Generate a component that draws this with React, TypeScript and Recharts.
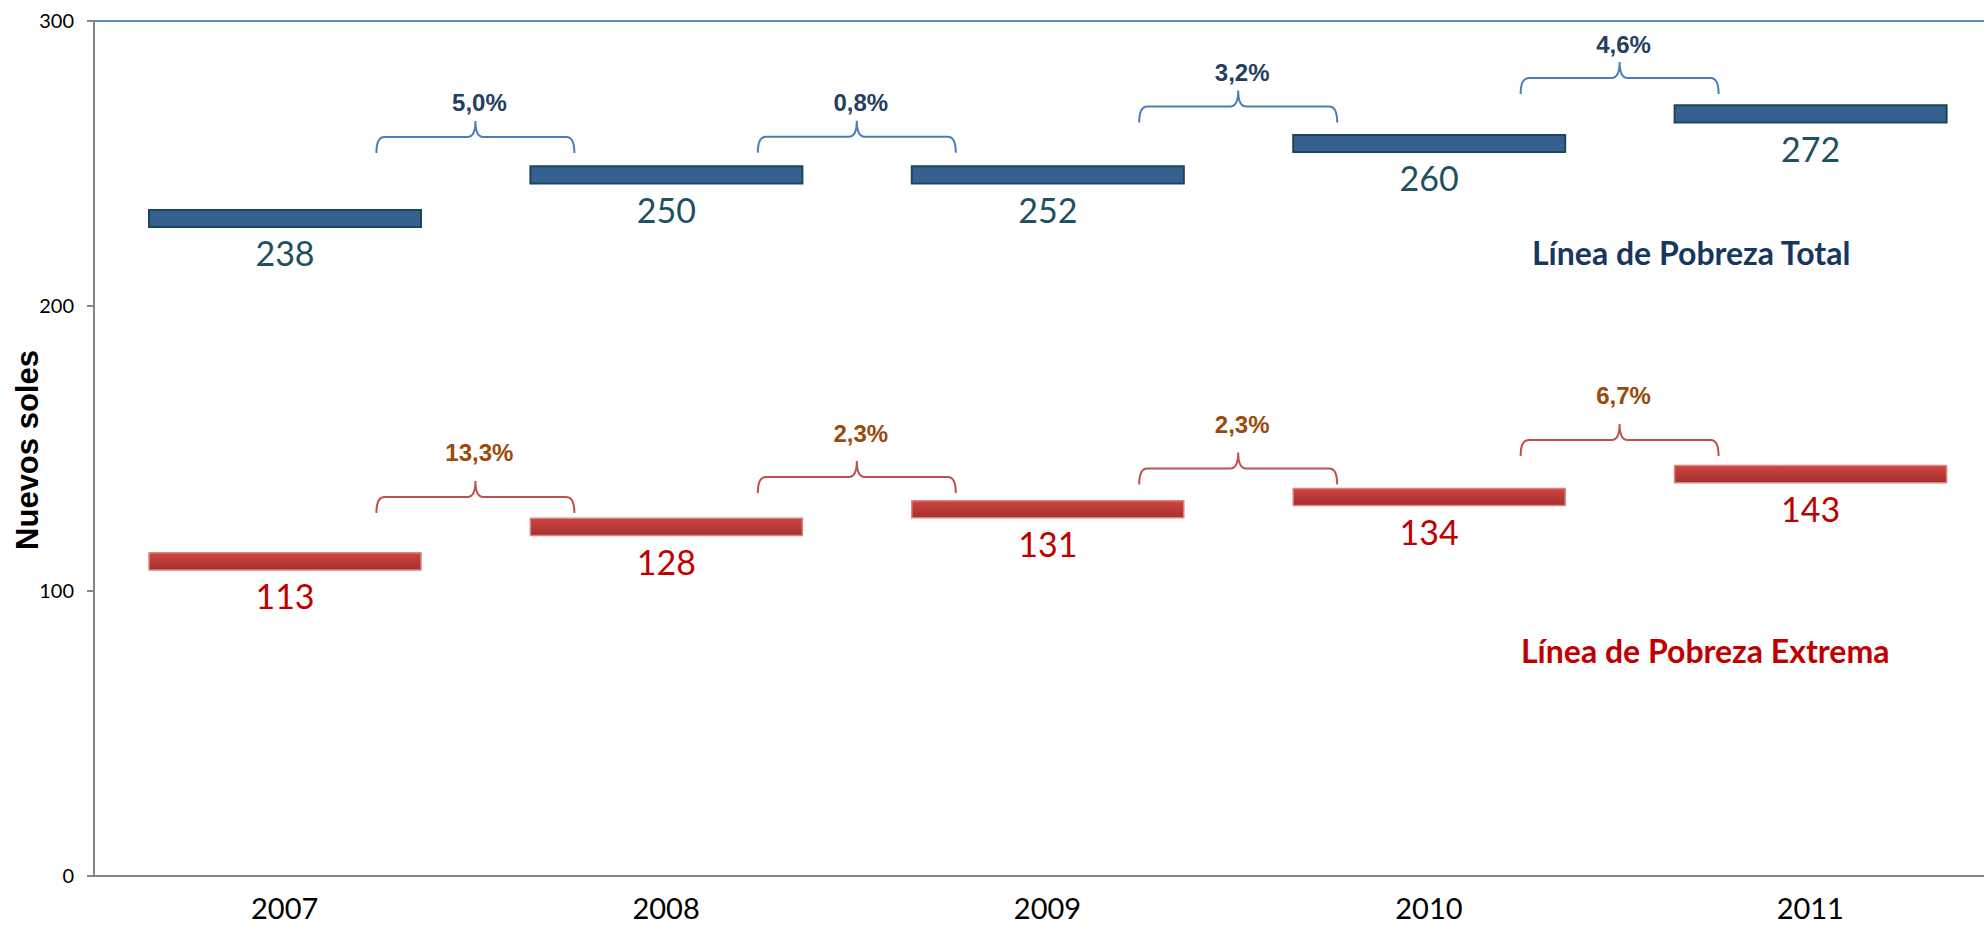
import React from 'react';
import { ComposedChart, Bar, Scatter, XAxis, YAxis, LabelList, ReferenceLine } from 'recharts';

const years = ['2007', '2008', '2009', '2010', '2011'];
// labels written under each bar
const totalValues = [238, 250, 252, 260, 272];
const extremeValues = [113, 128, 131, 134, 143];
// where the bars actually sit in the picture (Nuevos soles)
const totalLevels = [230.7, 246, 246, 257, 267.4];
const extremeLevels = [110.4, 122.5, 128.7, 133, 141];
// year-on-year changes, shown on braces between the years
const totalChanges = ['5,0%', '0,8%', '3,2%', '4,6%'];
const totalBraceLevels = [259.3, 259.4, 270, 280];
const extremeChanges = ['13,3%', '2,3%', '2,3%', '6,7%'];
const extremeBraceLevels = [133, 140, 143, 153];
const yTicks = [0, 100, 200, 300];

const HALF = 3; // half the bar thickness, in soles

const data = years.map((year, i) => {
  const redLo = extremeLevels[i] - HALF;
  const blueLo = totalLevels[i] - HALF;
  return {
    year,
    base: redLo,
    extreme: HALF * 2,
    gap: blueLo - (redLo + HALF * 2),
    total: HALF * 2,
    extremeValue: extremeValues[i],
    totalValue: totalValues[i],
  };
});

const totalBraces = totalChanges.map((pct, i) => ({ x: i + 1, y: totalBraceLevels[i], pct }));
const extremeBraces = extremeChanges.map((pct, i) => ({ x: i + 1, y: extremeBraceLevels[i], pct }));

const makeBrace = (stroke: string, textColor: string, lift: number) => (props: any) => {
  const { cx, cy, payload } = props;
  const w = 99, d = 16, r = 8;
  const path =
    `M${cx - w},${cy + d} Q${cx - w},${cy} ${cx - w + r},${cy} L${cx - r},${cy} ` +
    `Q${cx},${cy} ${cx},${cy - d} Q${cx},${cy} ${cx + r},${cy} L${cx + w - r},${cy} ` +
    `Q${cx + w},${cy} ${cx + w},${cy + d}`;
  return (
    <g>
      <path d={path} fill="none" stroke={stroke} strokeWidth={2} />
      <text
        x={cx + 4}
        y={cy - lift}
        textAnchor="middle"
        dominantBaseline="central"
        fontFamily="'Liberation Sans', Arial, sans-serif"
        fontWeight="bold"
        fontSize={24}
        fill={textColor}
      >
        {payload.pct}
      </text>
    </g>
  );
};

const calibri = "Lato, 'Open Sans', sans-serif";

const YearTick = (props: any) => {
  const { x, y, payload } = props;
  return (
    <text x={x} y={y + 30} textAnchor="middle" fill="#000" fontSize={29} fontFamily={calibri}>
      {payload.value}
    </text>
  );
};

export default function App() {
  return (
    <div style={{ position: 'fixed', left: 0, top: 0, width: 1984, height: 934, overflow: 'hidden', background: '#fff' }}>
      <ComposedChart
        width={2010}
        height={934}
        data={data}
        margin={{ top: 21, right: 9, left: 0, bottom: 0 }}
      >
        <defs>
          <linearGradient id="redBar" x1="0" y1="0" x2="0" y2="1">
            <stop offset="0%" stopColor="#CF4542" />
            <stop offset="100%" stopColor="#A52F2C" />
          </linearGradient>
        </defs>
        <XAxis
          xAxisId="a"
          dataKey="x"
          type="number"
          domain={[0, 5]}
          ticks={[0, 1, 2, 3, 4, 5]}
          allowDataOverflow
          tick={false}
          tickSize={11}
          height={11}
          axisLine={{ stroke: '#868686', strokeWidth: 2 }}
          tickLine={{ stroke: '#868686', strokeWidth: 2 }}
        />
        <XAxis
          xAxisId="b"
          dataKey="year"
          axisLine={false}
          tickLine={false}
          tickSize={0}
          height={47}
          tick={<YearTick />}
        />
        <YAxis
          domain={[0, 300]}
          ticks={yTicks}
          width={94}
          tickSize={7}
          tickMargin={13}
          axisLine={{ stroke: '#868686', strokeWidth: 2 }}
          tickLine={{ stroke: '#868686', strokeWidth: 2 }}
          tick={{ fill: '#000', fontSize: 20, fontFamily: calibri }}
        />
        <ReferenceLine xAxisId="a" y={300} stroke="#5B8AC6" strokeWidth={2} />
        <Bar xAxisId="b" dataKey="base" stackId="s" fill="none" barSize={272} isAnimationActive={false} />
        <Bar
          xAxisId="b"
          dataKey="extreme"
          stackId="s"
          fill="url(#redBar)"
          stroke="#D98583"
          strokeWidth={1.5}
          barSize={272}
          isAnimationActive={false}
        >
          <LabelList dataKey="extremeValue" position="bottom" offset={15} fill="#C00000" fontSize={34} fontFamily={calibri} />
        </Bar>
        <Bar xAxisId="b" dataKey="gap" stackId="s" fill="none" barSize={272} isAnimationActive={false} />
        <Bar
          xAxisId="b"
          dataKey="total"
          stackId="s"
          fill="#36608F"
          stroke="#1C4756"
          strokeWidth={2}
          barSize={272}
          isAnimationActive={false}
        >
          <LabelList dataKey="totalValue" position="bottom" offset={15} fill="#1F5060" fontSize={34} fontFamily={calibri} />
        </Bar>
        <Scatter
          xAxisId="a"
          data={totalBraces}
          dataKey="y"
          shape={makeBrace('#4A7EBB', '#243F60', 34)}
          isAnimationActive={false}
        />
        <Scatter
          xAxisId="a"
          data={extremeBraces}
          dataKey="y"
          shape={makeBrace('#C0504D', '#9A4A0A', 44)}
          isAnimationActive={false}
        />
      </ComposedChart>
      <div
        style={{
          position: 'absolute', left: 28, top: 450, transform: 'translate(-50%, -50%) rotate(-90deg)',
          whiteSpace: 'nowrap', fontFamily: "'Liberation Sans', Arial, sans-serif", fontWeight: 'bold', fontSize: 31, color: '#000',
        }}
      >
        Nuevos soles
      </div>
      <div
        style={{
          position: 'absolute', left: 1532, top: 252, transform: 'translateY(-50%)', whiteSpace: 'nowrap',
          fontFamily: calibri, fontWeight: 'bold', fontSize: 32, color: '#17375E',
        }}
      >
        Línea de Pobreza Total
      </div>
      <div
        style={{
          position: 'absolute', left: 1521, top: 650, transform: 'translateY(-50%)', whiteSpace: 'nowrap',
          fontFamily: calibri, fontWeight: 'bold', fontSize: 32, color: '#C00000',
        }}
      >
        Línea de Pobreza Extrema
      </div>
    </div>
  );
}
